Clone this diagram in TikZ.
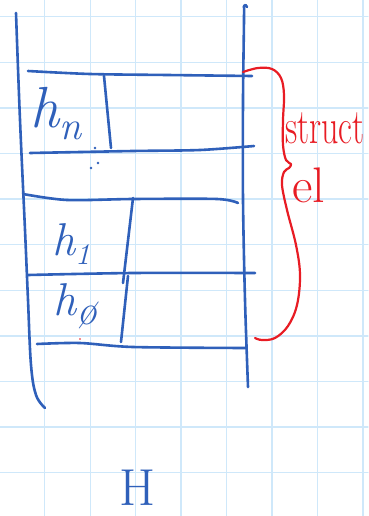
\documentclass[tikz,border=0pt]{standalone}
\definecolor{inkblue}{RGB}{47,96,186}
\definecolor{inkred}{RGB}{232,28,36}
\definecolor{gridblue}{RGB}{207,232,250}
\begin{document}
\begin{tikzpicture}[x=1pt,y=-1pt,line cap=round,line join=round,
  ink/.style={draw=inkblue,line width=2.6pt},
  redink/.style={draw=inkred,line width=2.2pt},
  gridline/.style={draw=gridblue,line width=1.3pt},
  bluetext/.style={text=inkblue,inner sep=0pt},
  redtext/.style={text=inkred,inner sep=0pt}]
\useasboundingbox (0,0) rectangle (368,516);
\fill[white] (0,0) rectangle (368,516);
% grid paper
\foreach \i in {0,...,7} \draw[gridline] ({44.7+45.45*\i},0) -- ++(0,516);
\foreach \j in {0,...,10} \draw[gridline] (0,{16.7+45.6*\j}) -- ++(368,0);
% outer walls
\draw[ink] plot[smooth,tension=0.6] coordinates {(16,13) (20,120) (25,230) (28,300) (31,365) (36,395) (45,408)};
\draw[ink] plot[smooth,tension=0.5] coordinates {(248,387) (245,300) (243,200) (243,100) (244,20) (244,6)};
\draw[ink] (244,6) .. controls (245,4) and (246,5) .. (247,7);
% horizontal lines
\draw[ink] plot[smooth,tension=0.5] coordinates {(28,71) (90,74) (167,75) (252,76)};
\draw[ink] plot[smooth,tension=0.5] coordinates {(30,153) (133,151) (200,150) (254,146)};
\draw[ink] plot[smooth,tension=0.5] coordinates {(23,194) (67,200) (133,199) (217,199) (238,203)};
\draw[ink] plot[smooth,tension=0.5] coordinates {(28,275) (133,273) (255,273)};
\draw[ink] plot[smooth,tension=0.5] coordinates {(37,344) (80,343) (133,347) (246,348)};
% dividers
\draw[ink] (104,76) -- (111,148);
\draw[ink] (133,198) -- (123,283);
\draw[ink] (128,276) -- (121,342);
% dots
\fill[inkblue] (95,148) circle (1.3);
\fill[inkblue] (91,168) circle (1.3);
\fill[inkblue] (98,163) circle (1.3);
\fill[inkred] (80,339) circle (0.9);
% labels
\node[bluetext,anchor=base west] (hn) at (30,127)
  {\fontsize{58}{60}\selectfont\itshape h\raisebox{-0.22em}{\fontsize{40}{42}\selectfont n}};
\node[bluetext,anchor=base west] (h1) at (52,255)
  {\fontsize{46}{48}\selectfont\itshape h\raisebox{-0.2em}{\fontsize{30}{32}\selectfont 1}};
\node[bluetext,anchor=base west] (h0) at (53,315)
  {\fontsize{46}{48}\selectfont\itshape h\raisebox{-0.2em}{\fontsize{42}{44}\selectfont \o}};
\node[bluetext,anchor=base west] (H) at (119,505) {\fontsize{52}{54}\selectfont H};
% red brace and label
\draw[redink] plot[smooth,tension=0.6] coordinates {(243,72) (258,68) (272,69) (281,78) (284,95) (283,120) (283,145) (286,160) (291,164) (289,168) (284,172) (282,185) (287,210) (296,245) (300,275) (297,305) (288,326) (275,338) (262,340) (255,338)};
\node[redtext,anchor=base west] (struct) at (285,143) {\scalebox{0.68}[1]{\fontsize{50}{52}\selectfont struct}};
\node[redtext,anchor=base west] (el) at (292,202) {\fontsize{50}{52}\selectfont el};
\end{tikzpicture}
\end{document}
